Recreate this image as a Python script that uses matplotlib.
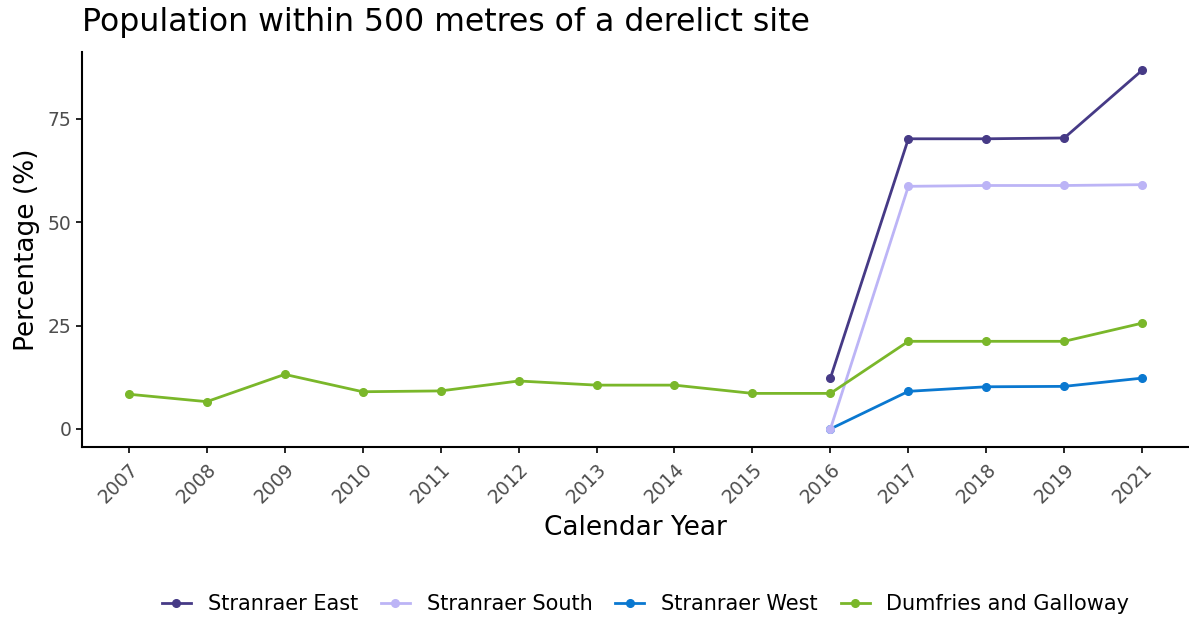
import numpy as np
import matplotlib
matplotlib.use('Agg')
import matplotlib.pyplot as plt

# data
years = ['2007', '2008', '2009', '2010', '2011', '2012', '2013',
         '2014', '2015', '2016', '2017', '2018', '2019', '2021']
dumfries = [8.4, 6.6, 13.2, 9.0, 9.2, 11.6, 10.6, 10.6, 8.6, 8.6, 21.2, 21.2, 21.2, 25.6]
east = [None] * 9 + [12.3, 70.2, 70.2, 70.4, 86.8]
south = [None] * 9 + [0.0, 58.7, 58.9, 58.9, 59.1]
west = [None] * 9 + [0.0, 9.1, 10.2, 10.3, 12.3]

series = [
    ('Stranraer East', east, '#463a86', 3),
    ('Stranraer South', south, '#bcb4f6', 3),
    ('Stranraer West', west, '#0a78d0', 2),
    ('Dumfries and Galloway', dumfries, '#7ab72a', 4),
]

fig = plt.figure(figsize=(11.89, 6.19), dpi=100, facecolor='white')
ax = fig.add_axes([0.069, 0.278, 0.931, 0.638])

x = np.arange(len(years))
for name, vals, col, z in series:
    v = np.array([np.nan if a is None else a for a in vals], dtype=float)
    ax.plot(x, v, '-o', color=col, lw=2, ms=5.5, label=name, zorder=z)

ax.set_xlim(-0.6, len(years) - 1 + 0.6)
ax.set_ylim(-4.35, 91.2)
ax.set_xticks(x)
ax.set_xticklabels(years, rotation=45, ha='right', rotation_mode='anchor',
                   fontsize=13.5, color='#4d4d4d')
ax.set_yticks([0, 25, 50, 75])
ax.tick_params(axis='y', labelsize=13.5, labelcolor='#4d4d4d', length=4, width=1.2)
ax.tick_params(axis='x', length=4, width=1.2, pad=5)
for s in ['top', 'right']:
    ax.spines[s].set_visible(False)
for s in ['left', 'bottom']:
    ax.spines[s].set_linewidth(1.5)

ax.set_xlabel('Calendar Year', fontsize=19, labelpad=6)
ax.set_ylabel('Percentage (%)', fontsize=19, labelpad=6)
fig.text(0.069, 0.964, 'Population within 500 metres of a derelict site',
         fontsize=22.7, ha='left', va='center')

handles, labels = ax.get_legend_handles_labels()
fig.legend(handles, labels, loc='center', bbox_to_anchor=(0.543, 0.024),
           ncol=4, frameon=False, fontsize=15, handlelength=1.4,
           columnspacing=1.1, handletextpad=0.8)

fig.savefig('out.png', dpi=100)
